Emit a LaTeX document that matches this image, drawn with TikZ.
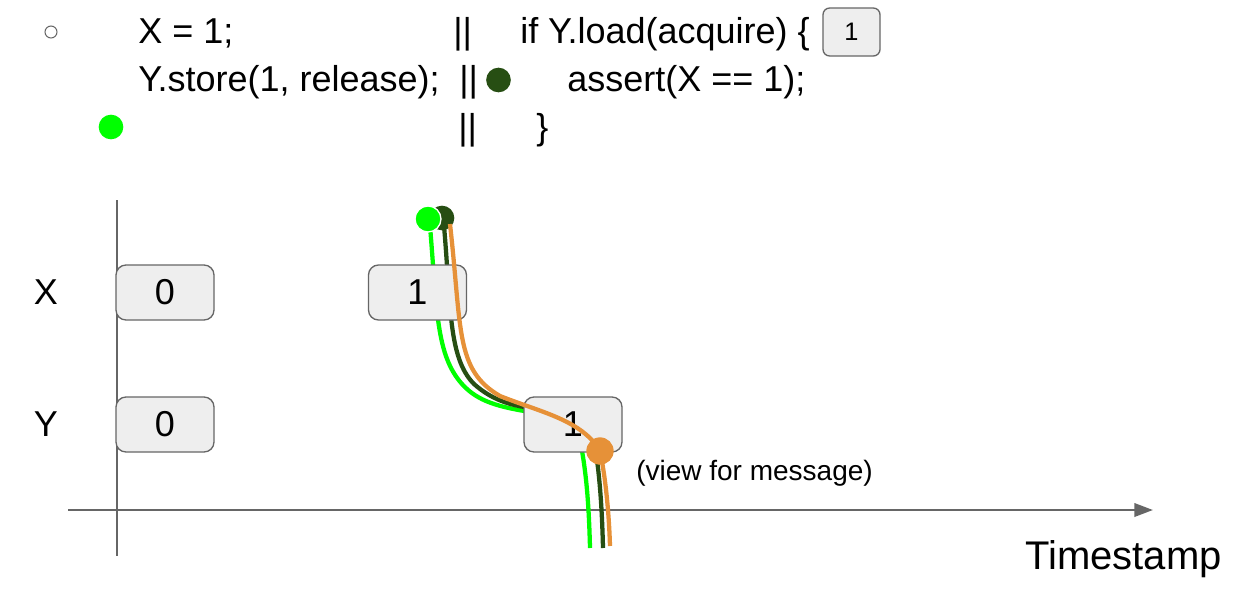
\documentclass[tikz,border=0pt]{standalone}
\usepackage{fontspec}
\setmainfont{Liberation Sans}
\usetikzlibrary{arrows.meta}
\definecolor{bgreen}{HTML}{00FF00}
\definecolor{dgreen}{HTML}{274E13}
\definecolor{orng}{HTML}{E69138}
\definecolor{boxfill}{HTML}{EEEEEE}
\definecolor{boxline}{HTML}{666666}
\definecolor{axisgray}{HTML}{666666}
\tikzset{
  code/.style={anchor=base west,inner sep=0pt,font=\fontsize{27}{30}\selectfont},
  axlabel/.style={anchor=center,inner sep=0pt,font=\fontsize{27}{30}\selectfont},
  valbox/.style={draw=boxline,fill=boxfill,line width=1pt,rounded corners=7.5pt,
    minimum width=73.5pt,minimum height=41.25pt,inner sep=0pt,font=\fontsize{27}{30}\selectfont},
  smallbox/.style={draw=boxline,fill=boxfill,line width=1pt,rounded corners=5pt,
    minimum width=42.75pt,minimum height=36pt,inner sep=0pt,font=\fontsize{19}{22}\selectfont},
  axis/.style={draw=axisgray,line width=2pt},
  trace/.style={line width=3.2pt},
}
\begin{document}
\begin{tikzpicture}[x=0.75pt,y=-0.75pt]
\useasboundingbox (0,0) rectangle (1248,597);

% code lines
\node[draw=boxline,line width=0.8pt,circle,minimum size=9pt,inner sep=0pt] (hollow) at (51,32) {};
\node[code] (c1) at (138,43) {X = 1;};
\node[code] (p1) at (453,43) {||};
\node[code] (c2) at (520,43) {if Y.load(acquire) \{};
\node[smallbox] (sb) at (851.5,32) {1};
\node[code] (c3) at (138,91) {Y.store(1, release);};
\node[code] (p2) at (459,91) {||};
\node[circle,fill=dgreen,minimum size=18.5pt,inner sep=0pt] (dg1) at (498.5,80) {};
\node[code] (c4) at (567,91) {assert(X == 1);};
\node[circle,fill=bgreen,minimum size=18.5pt,inner sep=0pt] (bg1) at (111,127) {};
\node[code] (p3) at (458,139) {||};
\node[code] (c5) at (536,139) {\}};

% axes
\coordinate (vt) at (117,200);
\coordinate (vb) at (117,556);
\coordinate (hl) at (68,510);
\coordinate (hr) at (1153,510);
\draw[axis] (vt) -- (vb);
\draw[axis,-{Triangle[length=14pt,width=10pt]}] (hl) -- (hr);

\node[axlabel] (lx) at (46,292) {X};
\node[axlabel] (ly) at (46,424) {Y};
\node[anchor=base west,inner sep=0pt,font=\fontsize{30}{33}\selectfont] (ts) at (1025,569) {Timestamp};

% green traces (behind boxes)
\coordinate (g0) at (430,226);
\coordinate (g1) at (530,412);
\coordinate (g2) at (580,440);
\coordinate (g3) at (590,548);
\draw[trace,bgreen] (g0) .. controls (437,310) and (436,355) .. (462,384) .. controls (478,402) and (500,407) .. (g1);
\draw[trace,bgreen] (g2) .. controls (587,475) and (589,510) .. (g3);

\coordinate (d0) at (444,226);
\coordinate (d1) at (530,408);
\coordinate (d2) at (594,440);
\coordinate (d3) at (603,548);
\draw[trace,dgreen] (d0) .. controls (451,305) and (448,358) .. (474,384) .. controls (492,400) and (510,405) .. (d1);
\draw[trace,dgreen] (d2) .. controls (600,475) and (602,510) .. (d3);

% top dots
\node[circle,fill=dgreen,minimum size=18.5pt,inner sep=0pt] (dgt) at (442,218) {};
\node[circle,fill=bgreen,draw=white,line width=1pt,minimum size=19.5pt,inner sep=0pt] (bgt) at (428,219) {};

% value boxes
\node[valbox] (x0) at (165,292.5) {0};
\node[valbox] (y0) at (165,424.5) {0};
\node[valbox] (x1) at (417.5,292.5) {1};
\node[valbox] (y1) at (573,424.5) {1};

% orange trace
\coordinate (o0) at (450,224);
\coordinate (om) at (600,451);
\coordinate (o3) at (610,546);
\draw[trace,orng] (o0) .. controls (462,330) and (455,370) .. (500,396) .. controls (540,412) and (582,420) .. (om) .. controls (606,480) and (609,515) .. (o3);
\node[circle,fill=orng,minimum size=20.5pt,inner sep=0pt] (odot) at (om) {};

\node[anchor=base west,inner sep=0pt,font=\fontsize{21}{24}\selectfont] (vm) at (636,480) {(view for message)};
\end{tikzpicture}
\end{document}
